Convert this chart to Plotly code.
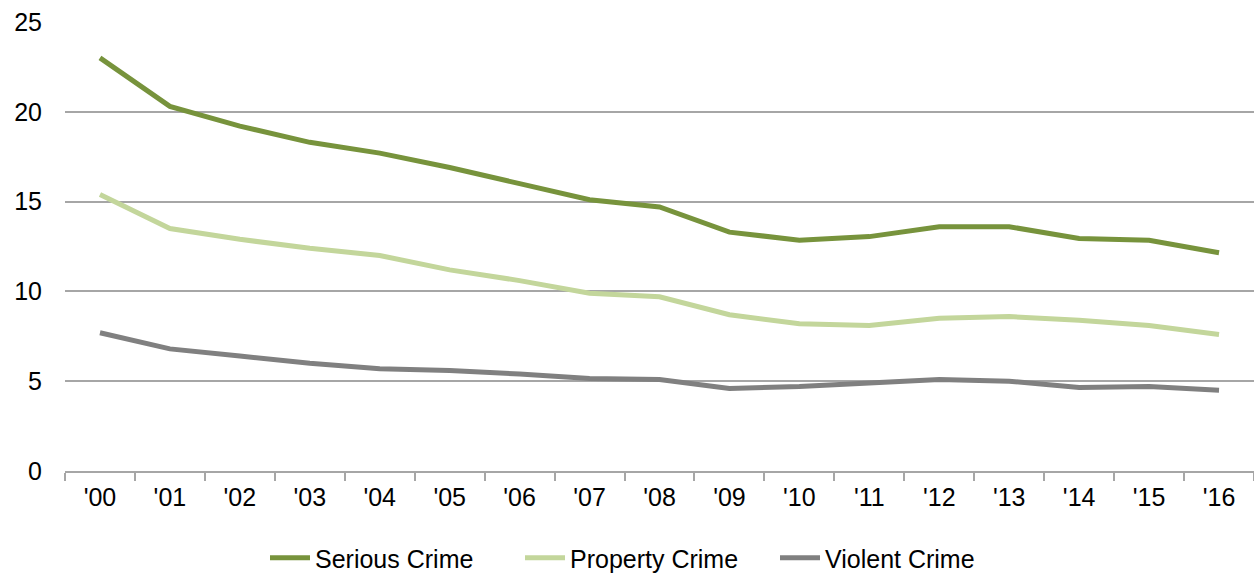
import plotly.graph_objects as go

years = ["'00", "'01", "'02", "'03", "'04", "'05", "'06", "'07", "'08",
         "'09", "'10", "'11", "'12", "'13", "'14", "'15", "'16"]
serious = [23.0, 20.3, 19.2, 18.3, 17.7, 16.9, 16.0, 15.1, 14.7,
           13.3, 12.85, 13.05, 13.6, 13.6, 12.95, 12.85, 12.15]
property_ = [15.4, 13.5, 12.9, 12.4, 12.0, 11.2, 10.6, 9.9, 9.7,
             8.7, 8.2, 8.1, 8.5, 8.6, 8.4, 8.1, 7.6]
violent = [7.7, 6.8, 6.4, 6.0, 5.7, 5.6, 5.4, 5.15, 5.1,
           4.6, 4.7, 4.9, 5.1, 5.0, 4.65, 4.7, 4.5]

series = [
    ("Serious Crime", serious, "#77933C"),
    ("Property Crime", property_, "#C3D69B"),
    ("Violent Crime", violent, "#808080"),
]

fig = go.Figure()
for name, vals, color in series:
    fig.add_trace(go.Scatter(x=years, y=vals, name=name, mode="lines",
                             line=dict(color=color, width=5)))

font = dict(family="Liberation Sans, Arial, sans-serif", size=25, color="#000000")

fig.update_layout(
    width=1254, height=577,
    margin=dict(l=65, r=0, t=22, b=106),
    paper_bgcolor="white", plot_bgcolor="white",
    font=font,
    showlegend=True,
    legend=dict(orientation="h", x=265 / 1254, xanchor="left", xref="container",
                y=1 - 558 / 577, yanchor="middle", yref="container",
                font=font, itemwidth=40, tracegroupgap=0,
                entrywidth=200, entrywidthmode="pixels",
                traceorder="normal"),
    xaxis=dict(type="category", showgrid=False, showline=True,
               linecolor="#A6A6A6", linewidth=2,
               ticks="outside", tickson="boundaries", ticklen=8,
               tickcolor="#A6A6A6", tickwidth=2, tickfont=font,
               ticklabelstandoff=3,
               range=[-0.5, 16.5]),
    yaxis=dict(range=[0, 25], dtick=5, showgrid=True, gridcolor="#A6A6A6",
               gridwidth=2, zeroline=False, showline=False, ticks="",
               tickfont=font, ticklabelstandoff=22),
)

fig.write_html("out.html")
